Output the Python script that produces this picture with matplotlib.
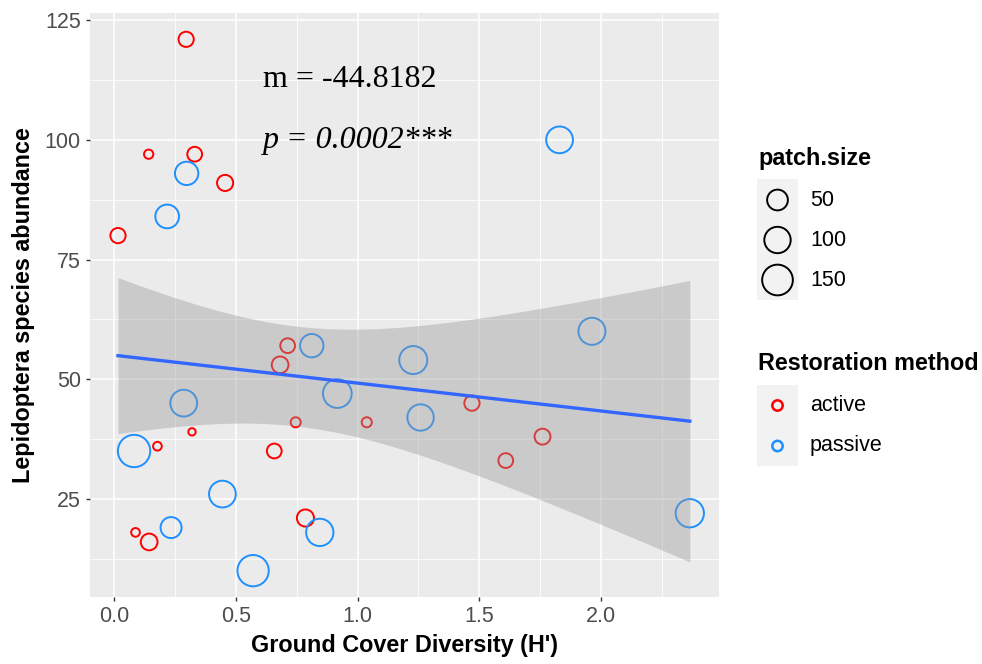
import matplotlib
matplotlib.use("Agg")
import matplotlib.pyplot as plt
import numpy as np

# active restoration sites
active_x = [0.296, 0.142, 0.331, 0.456, 0.016, 0.713, 0.682, 1.470, 0.746,
            1.038, 0.320, 0.178, 0.658, 0.088, 0.144, 0.786, 1.760, 1.609]
active_y = [121, 97, 97, 91, 80, 57, 53, 45, 41, 41, 39, 36, 35, 18, 16, 21, 38, 33]
active_size = [18, 2, 16, 22, 18, 16, 25, 18, 3, 3, 1, 1.5, 16, 1.5, 25, 27, 21, 16]

# passive restoration sites
passive_x = [0.298, 0.218, 0.812, 1.229, 0.917, 0.286, 1.259, 0.082, 0.445,
             0.234, 0.845, 0.571, 1.830, 1.963, 2.365]
passive_y = [93, 84, 57, 54, 47, 45, 42, 35, 26, 19, 18, 10, 100, 60, 22]
passive_size = [71, 74, 71, 118, 126, 104, 100, 172, 104, 52, 110, 158, 104, 107, 121]

size_breaks = [50, 100, 150]
method_labels = ["active", "passive"]
x_ticks = [0.0, 0.5, 1.0, 1.5, 2.0]
y_ticks = [25, 50, 75, 100, 125]

RED = "#FF0000"
BLUE = "#1E90FF"
DPI = 100
LW = 1.4  # circle stroke in points
TXT = 15.5

all_size = np.array(active_size + passive_size, dtype=float)
smin, smax = all_size.min(), all_size.max()


def marker_area(v):
    # ggplot-like area palette: outer diameter in px from sqrt-rescaled value
    v = np.asarray(v, dtype=float)
    outer = 9.3 + 25.0 * np.sqrt((v - smin) / (smax - smin))
    path_px = outer - LW * DPI / 72
    return (path_px * 72 / DPI) ** 2


plt.rcParams["font.family"] = ["Liberation Sans", "DejaVu Sans"]

fig = plt.figure(figsize=(9.82, 6.64), dpi=DPI)
W, H = 982, 664
L, R, T, B = 90, 719, 13, 597
ax = fig.add_axes([L / W, (H - B) / H, (R - L) / W, (B - T) / H])
ax.set_facecolor("#EBEBEB")
for sp in ax.spines.values():
    sp.set_visible(False)

ax.set_xlim(-0.099, 2.485)
ax.set_ylim(4.5, 126.5)
ax.set_xticks(x_ticks)
ax.set_xticklabels([f"{t:.1f}" for t in x_ticks])
ax.set_yticks(y_ticks)
ax.set_xticks([0.25, 0.75, 1.25, 1.75, 2.25], minor=True)
ax.set_yticks([12.5, 37.5, 62.5, 87.5, 112.5], minor=True)
ax.grid(True, which="major", color="white", linewidth=1.1)
ax.grid(True, which="minor", color="white", linewidth=0.55)
ax.set_axisbelow(True)
ax.tick_params(which="major", length=3, width=1.0, color="#333333",
               labelsize=TXT, labelcolor="#4D4D4D", pad=3.5)
ax.tick_params(which="minor", length=0)

# points
ax.scatter(active_x, active_y, s=marker_area(active_size), facecolors="none",
           edgecolors=RED, linewidths=LW, zorder=2)
ax.scatter(passive_x, passive_y, s=marker_area(passive_size), facecolors="none",
           edgecolors=BLUE, linewidths=LW, zorder=2)

# linear fit with 95% confidence band
xa = np.array(active_x + passive_x)
ya = np.array(active_y + passive_y, dtype=float)
n = len(xa)
coef = np.polyfit(xa, ya, 1)
xs = np.linspace(xa.min(), xa.max(), 80)
yhat = np.polyval(coef, xs)
resid = ya - np.polyval(coef, xa)
s = np.sqrt(np.sum(resid ** 2) / (n - 2))
sxx = np.sum((xa - xa.mean()) ** 2)
se = s * np.sqrt(1 / n + (xs - xa.mean()) ** 2 / sxx)
t = 2.0395
ax.fill_between(xs, yhat - t * se, yhat + t * se, color="#999999", alpha=0.4,
                linewidth=0, zorder=3)
ax.plot(xs, yhat, color="#3366FF", linewidth=2.4, zorder=4)

ax.text(0.612, 110.95, "m = -44.8182", family="Liberation Serif", fontsize=23,
        va="baseline", ha="left", zorder=5)
ax.text(0.612, 98.2, "p = 0.0002***", family="Liberation Serif", style="italic",
        fontsize=23, va="baseline", ha="left", zorder=5)

ax.set_xlabel("Ground Cover Diversity (H')", fontsize=16.8, fontweight="bold",
              labelpad=5)
ax.set_ylabel("Lepidoptera species abundance", fontsize=16.8, fontweight="bold",
              labelpad=7)

# legends, drawn in pixel space
lg = fig.add_axes([0, 0, 1, 1], facecolor="none")
lg.set_xlim(0, W)
lg.set_ylim(H, 0)
lg.axis("off")

lg.text(758, 158, "patch.size", fontsize=16.8, fontweight="bold", va="center", ha="left")
lg.add_patch(plt.Rectangle((757, 179), 41, 121, color="#F2F2F2", linewidth=0))
for i, b in enumerate(size_breaks):
    yy = 200 + 40 * i
    lg.scatter([777.5], [yy], s=marker_area(b), facecolors="none",
               edgecolors="black", linewidths=LW)
    lg.text(810, yy, str(b), fontsize=TXT, va="center", ha="left")

lg.text(758, 363, "Restoration method", fontsize=16.8, fontweight="bold",
        va="center", ha="left")
lg.add_patch(plt.Rectangle((757, 385), 41, 81, color="#F2F2F2", linewidth=0))
for i, (lab, col) in enumerate(zip(method_labels, [RED, BLUE])):
    yy = 405.5 + 40.5 * i
    d_pt = (12.3 - LW * DPI / 72) * 72 / DPI
    lg.scatter([777.5], [yy], s=d_pt ** 2, facecolors="none", edgecolors=col,
               linewidths=LW * 1.3)
    lg.text(810, yy, lab, fontsize=TXT, va="center", ha="left")

fig.savefig("out.png", dpi=DPI)
